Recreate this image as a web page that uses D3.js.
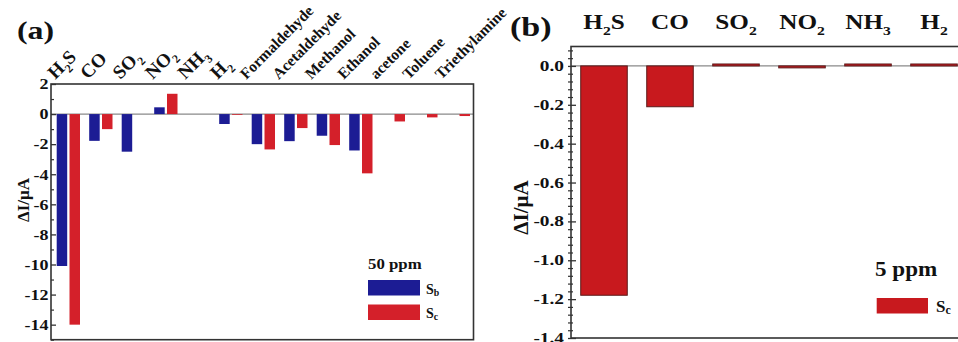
<!DOCTYPE html>
<html>
<head>
<meta charset="utf-8">
<script src="https://cdn.jsdelivr.net/npm/d3@7"></script>
<style>
body { margin: 0; background: #fff; }
svg { display: block; font-family: "Liberation Serif", "Times New Roman", serif; font-weight: bold; }
svg text { font-family: "Liberation Serif", "Times New Roman", serif; font-weight: bold; }
</style>
</head>
<body>
<div id="chart"></div>
<script>
// panel (a) : 50 ppm, sensors Sb and Sc
const gasesA = ["H2S", "CO", "SO2", "NO2", "NH3", "H2", "Formaldehyde", "Acetaldehyde", "Methanol", "Ethanol", "acetone", "Toluene", "Triethylamine"];
const seriesA = ["Sb", "Sc"];
const sbValues = [-10.1, -1.78, -2.5, 0.45, 0, -0.66, -2.0, -1.8, -1.44, -2.42, 0, 0, 0];
const scValues = [-14.0, -1.0, 0, 1.35, 0, -0.05, -2.35, -0.93, -2.06, -3.94, -0.49, -0.22, -0.13];
const yTicksA = [2, 0, -2, -4, -6, -8, -10, -12, -14];

// panel (b) : 5 ppm, sensor Sc only
const gasesB = ["H2S", "CO", "SO2", "NO2", "NH3", "H2"];
const scValuesB = [-1.18, -0.21, 0.01, -0.01, 0.01, 0.01];
const yTicksB = [0.0, -0.2, -0.4, -0.6, -0.8, -1.0, -1.2, -1.4];

const blue = "#1c1c94", red = "#d4202a", redB = "#c8191e";

const svg = d3.select("#chart").append("svg")
    .attr("width", 958)
    .attr("height", 342);

// writes "H2S" style text with subscript digits into a text node
function chem(sel, str, size) {
    const parts = str.match(/(\d+|[^\d]+)/g);
    let down = false;
    parts.forEach(p => {
        const isSub = /\d/.test(p);
        const t = sel.append("tspan").text(p);
        if (isSub) {
            t.attr("font-size", size * 0.62).attr("dy", size * 0.28);
            down = true;
        } else if (down) {
            t.attr("dy", -size * 0.28);
            down = false;
        }
    });
}

function sLabel(sel, sub, size) {
    sel.append("tspan").text("S");
    sel.append("tspan").text(sub).attr("font-size", size * 0.7).attr("dy", size * 0.15);
}

// ---------------- panel (a)
const xA = d3.scaleBand().domain(gasesA).range([51, 473.5]).padding(0);
const xSub = d3.scaleBand().domain(seriesA).range([5.7, 29]).paddingInner(0.18);
const yA = d3.scaleLinear().domain([-15, 2]).range([339.7, 84]);

const tableA = [];
gasesA.forEach((g, i) => {
    tableA.push({ gas: g, s: "Sb", v: sbValues[i] });
    tableA.push({ gas: g, s: "Sc", v: scValues[i] });
});

const gA = svg.append("g");

gA.append("line")
    .attr("x1", xA.range()[0]).attr("x2", xA.range()[1])
    .attr("y1", yA(0)).attr("y2", yA(0))
    .attr("stroke", "#8a8a8a").attr("stroke-width", 1.2);

gA.selectAll("rect.bar")
    .data(tableA.filter(d => d.v !== 0))
    .enter()
    .append("rect")
    .attr("class", "bar")
    .attr("x", d => xA(d.gas) + xSub(d.s))
    .attr("y", d => yA(Math.max(0, d.v)))
    .attr("width", xSub.bandwidth())
    .attr("height", d => Math.abs(yA(d.v) - yA(0)))
    .attr("fill", d => d.s === "Sb" ? blue : red);

// axes (a)
const axA = gA.append("g").attr("transform", "translate(51,0)")
    .call(d3.axisLeft(yA).tickValues(yTicksA).tickSizeInner(-5).tickSizeOuter(0).tickPadding(3)
        .tickFormat(d => d < 0 ? "-" + Math.abs(d) : d));
axA.attr("font-family", null);
axA.select(".domain").remove();
axA.selectAll("line").attr("stroke", "#333").attr("stroke-width", 1.3);
axA.selectAll("text")
    .style("font-size", "15px")
    .attr("fill", "#111")
    .attr("x", -2.5 / 1.2)
    .attr("transform", "scale(1.2,1)");

const minorA = gA.append("g").attr("transform", "translate(51,0)")
    .call(d3.axisLeft(yA).tickValues(d3.range(1, -16, -2)).tickSizeInner(-3).tickSizeOuter(0).tickFormat(""));
minorA.select(".domain").remove();
minorA.selectAll("line").attr("stroke", "#333").attr("stroke-width", 1.2);

gA.append("rect")
    .attr("x", xA.range()[0]).attr("y", yA(2))
    .attr("width", xA.range()[1] - xA.range()[0])
    .attr("height", yA(-15) - yA(2))
    .attr("fill", "none").attr("stroke", "#333").attr("stroke-width", 1.6);

// rotated gas labels above (a)
gasesA.forEach(g => {
    const formula = /\d|^CO$/.test(g);
    const size = formula ? 19 : 15.5;
    const x0 = xA(g) + xA.bandwidth() / 2 - (formula ? 12 : 16);
    const t = gA.append("text")
        .attr("transform", `translate(${x0},80) rotate(-45)`)
        .attr("font-size", size)
        .attr("fill", "#111");
    chem(t, g, size);
});

svg.append("text")
    .attr("transform", "translate(17,38.6) scale(1.3,1)")
    .attr("font-size", 24.5).attr("fill", "#111")
    .text("(a)");

svg.append("text")
    .attr("transform", "translate(29,200) rotate(-90)")
    .attr("text-anchor", "middle")
    .attr("font-size", 17).attr("fill", "#111")
    .text("ΔI/μA");

// legend (a)
const legA = svg.append("g");
legA.append("text")
    .attr("transform", "translate(368,269) scale(1.2,1)")
    .attr("font-size", 14).attr("fill", "#111")
    .text("50 ppm");
seriesA.forEach((s, i) => {
    legA.append("rect")
        .attr("x", 368).attr("y", 280 + i * 24.5)
        .attr("width", 52).attr("height", 15.5)
        .attr("fill", s === "Sb" ? blue : red);
    const t = legA.append("text")
        .attr("x", 426).attr("y", 293.5 + i * 24.5)
        .attr("font-size", 14).attr("fill", "#111");
    sLabel(t, s.slice(1), 14);
});

// ---------------- panel (b)
const xB = d3.scaleBand().domain(gasesB).range([571, 967]).paddingInner(0.295).paddingOuter(0.1475);
const yB = d3.scaleLinear().domain([-1.4, 0.1]).range([338, 46.5]);

const gB = svg.append("g");

gB.append("line")
    .attr("x1", 571).attr("x2", 958)
    .attr("y1", yB(0)).attr("y2", yB(0))
    .attr("stroke", "#8a8a8a").attr("stroke-width", 1.2);

gB.selectAll("rect.bar")
    .data(gasesB.map((g, i) => ({ gas: g, v: scValuesB[i] })))
    .enter()
    .append("rect")
    .attr("class", "bar")
    .attr("x", d => xB(d.gas))
    .attr("y", d => yB(Math.max(0, d.v)))
    .attr("width", xB.bandwidth())
    .attr("height", d => Math.abs(yB(d.v) - yB(0)))
    .attr("fill", redB)
    .attr("stroke", "#5a1a1a").attr("stroke-width", 1);

const axB = gB.append("g").attr("transform", "translate(571,0)")
    .call(d3.axisLeft(yB).tickValues(yTicksB).tickSizeInner(-5).tickSizeOuter(0).tickPadding(7)
        .tickFormat(d => (d < 0 ? "-" : "") + Math.abs(d).toFixed(1)));
axB.attr("font-family", null);
axB.select(".domain").remove();
axB.selectAll("line").attr("x1", -3).attr("stroke", "#333").attr("stroke-width", 1.3);
axB.selectAll("text")
    .style("font-size", "14px")
    .attr("fill", "#111")
    .attr("x", -7 / 1.38)
    .attr("transform", "scale(1.38,1)");

const minorTicksB = d3.range(-35, 3).filter(i => i % 5 !== 0).map(i => i * 0.04);
const minorB = gB.append("g").attr("transform", "translate(571,0)")
    .call(d3.axisLeft(yB).tickValues(minorTicksB).tickSizeInner(-2).tickSizeOuter(0).tickFormat(""));
minorB.select(".domain").remove();
minorB.selectAll("line").attr("x1", -3).attr("stroke", "#333").attr("stroke-width", 1.2);

gB.append("rect")
    .attr("x", 571).attr("y", yB(0.1))
    .attr("width", 396)
    .attr("height", yB(-1.4) - yB(0.1))
    .attr("fill", "none").attr("stroke", "#333").attr("stroke-width", 1.6);

gasesB.forEach(g => {
    const t = gB.append("text")
        .attr("transform", `translate(${xB(g) + xB.bandwidth() / 2},29) scale(1.2,1)`)
        .attr("text-anchor", "middle")
        .attr("font-size", 21).attr("fill", "#111");
    chem(t, g, 21);
});

svg.append("text")
    .attr("transform", "translate(510,35.5) scale(1.22,1)")
    .attr("font-size", 28).attr("fill", "#111")
    .text("(b)");

svg.append("text")
    .attr("transform", "translate(528,207.5) rotate(-90)")
    .attr("text-anchor", "middle")
    .attr("font-size", 21).attr("fill", "#111")
    .text("ΔI/μA");

// legend (b)
svg.append("text")
    .attr("transform", "translate(875,276) scale(1.1,1)")
    .attr("font-size", 21).attr("fill", "#111")
    .text("5 ppm");
svg.append("rect")
    .attr("x", 876.7).attr("y", 298)
    .attr("width", 51.3).attr("height", 15.5)
    .attr("fill", redB);
const tB = svg.append("text")
    .attr("x", 936).attr("y", 311.5)
    .attr("font-size", 17).attr("fill", "#111");
sLabel(tB, "c", 17);
</script>
</body>
</html>
